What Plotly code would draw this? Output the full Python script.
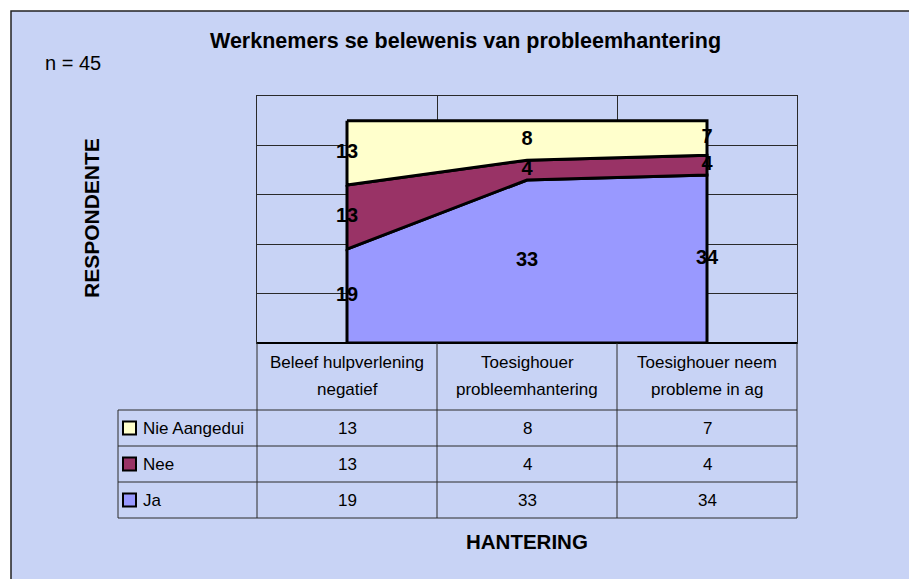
import plotly.graph_objects as go

# ---- data -------------------------------------------------------------
categories = [
    "Beleef hulpverlening<br>negatief",
    "Toesighouer<br>probleemhantering",
    "Toesighouer neem<br>probleme in ag",
]
ja = [19, 33, 34]
nee = [13, 4, 4]
nie_aangedui = [13, 8, 7]
y_ticks = [0, 10, 20, 30, 40, 50]

title_text = "Werknemers se belewenis van probleemhantering"
sample_text = "n = 45"
y_title = "RESPONDENTE"
x_title = "HANTERING"

# stacking order: bottom to top
series = [
    ("Ja", ja, "#9999FF"),
    ("Nee", nee, "#993366"),
    ("Nie Aangedui", nie_aangedui, "#FFFFCC"),
]

# ---- page geometry (pixels) ------------------------------------------
W, H = 909, 579
BG = "#C8D3F5"
GRID = "#2a2a2a"
FONT = "Liberation Sans, Arial, sans-serif"
TABLE_SIZE = 17

plot_left, plot_right, plot_top, plot_bottom = 257, 797, 96, 343
legend_left = 118
row_edges = [343, 410, 446, 482, 518]
header_lines_y = [362, 390]


def px(x):
    return x / W


def py(y):
    return 1 - y / H


idx = list(range(len(categories)))
fig = go.Figure()

# stacked areas as closed polygons with black outlines
base = [0] * len(idx)
label_x, label_y, label_t = [], [], []
for name, vals, color in series:
    top = [b + v for b, v in zip(base, vals)]
    xs = idx + idx[::-1] + [idx[0]]
    ys = top + base[::-1] + [top[0]]
    fig.add_trace(go.Scatter(
        x=xs, y=ys, mode="lines", fill="toself", fillcolor=color,
        line=dict(color="black", width=3), name=name,
        hoverinfo="skip", showlegend=False,
    ))
    for i in idx:
        label_x.append(i)
        label_y.append(base[i] + vals[i] / 2)
        label_t.append(str(vals[i]))
    base = top

# value labels in the middle of each band
fig.add_trace(go.Scatter(
    x=label_x, y=label_y, text=label_t, mode="text",
    textposition="middle center",
    textfont=dict(family=FONT, size=20, color="black", weight="bold"),
    hoverinfo="skip", showlegend=False, cliponaxis=False,
))

shapes = []
annotations = []

# outer frame with background fill
shapes.append(dict(
    type="rect", xref="paper", yref="paper",
    x0=px(11), x1=px(W + 10), y0=py(H + 10), y1=py(11),
    fillcolor=BG, line=dict(color="#222", width=1.5), layer="below",
))


def hline(x0, x1, y, width=1, color=GRID):
    shapes.append(dict(type="line", xref="paper", yref="paper",
                       x0=px(x0), x1=px(x1), y0=py(y), y1=py(y),
                       line=dict(color=color, width=width)))


def vline(x, y0, y1, width=1, color=GRID):
    shapes.append(dict(type="line", xref="paper", yref="paper",
                       x0=px(x), x1=px(x), y0=py(y0), y1=py(y1),
                       line=dict(color=color, width=width)))


# data table grid
col_edges = [plot_left + (plot_right - plot_left) * k / len(categories)
             for k in range(len(categories) + 1)]
hline(plot_left, plot_right, row_edges[0], width=2, color="black")
for y in row_edges[1:]:
    hline(legend_left, plot_right, y)
for x in col_edges:
    vline(x, row_edges[0], row_edges[-1])
vline(legend_left, row_edges[1], row_edges[-1])

# header row: category names, one annotation per text line
for k, cat in enumerate(categories):
    cx = (col_edges[k] + col_edges[k + 1]) / 2
    for line_text, ly in zip(cat.split("<br>"), header_lines_y):
        annotations.append(dict(
            x=px(cx), y=py(ly), xref="paper", yref="paper",
            text=line_text, showarrow=False,
            font=dict(family=FONT, size=TABLE_SIZE, color="black"),
            xanchor="center", yanchor="middle",
        ))

# value rows, top row is the top band
for r, (name, vals, color) in enumerate(series[::-1]):
    y0, y1 = row_edges[r + 1], row_edges[r + 2]
    cy = (y0 + y1) / 2
    shapes.append(dict(
        type="rect", xref="paper", yref="paper",
        x0=px(123), x1=px(136), y0=py(cy + 6.5), y1=py(cy - 6.5),
        fillcolor=color, line=dict(color="black", width=2),
    ))
    annotations.append(dict(
        x=px(141), y=py(cy), xref="paper", yref="paper", text=name,
        showarrow=False, xanchor="left", yanchor="middle",
        font=dict(family=FONT, size=TABLE_SIZE, color="black"),
    ))
    for k, v in enumerate(vals):
        cx = (col_edges[k] + col_edges[k + 1]) / 2
        annotations.append(dict(
            x=px(cx), y=py(cy), xref="paper", yref="paper", text=str(v),
            showarrow=False, xanchor="center", yanchor="middle",
            font=dict(family=FONT, size=TABLE_SIZE, color="black"),
        ))

# titles and note
annotations += [
    dict(x=px(466), y=py(41), xref="paper", yref="paper",
         text=f"<b>{title_text}</b>", showarrow=False,
         font=dict(family=FONT, size=21.5, color="black"),
         xanchor="center", yanchor="middle"),
    dict(x=px(43), y=py(63), xref="paper", yref="paper",
         text=sample_text, showarrow=False,
         font=dict(family=FONT, size=20, color="black"),
         xanchor="left", yanchor="middle"),
    dict(x=px(92), y=py(218), xref="paper", yref="paper",
         text=f"<b>{y_title}</b>", showarrow=False, textangle=-90,
         font=dict(family=FONT, size=21, color="black"),
         xanchor="center", yanchor="middle"),
    dict(x=px(527), y=py(541), xref="paper", yref="paper",
         text=f"<b>{x_title}</b>", showarrow=False,
         font=dict(family=FONT, size=20.5, color="black"),
         xanchor="center", yanchor="middle"),
]

fig.update_layout(
    width=W, height=H,
    margin=dict(l=0, r=0, t=0, b=0),
    paper_bgcolor="white",
    plot_bgcolor="rgba(0,0,0,0)",
    shapes=shapes,
    annotations=annotations,
    showlegend=False,
    xaxis=dict(
        domain=[px(plot_left), px(plot_right)],
        range=[-0.5, len(categories) - 0.5],
        tickvals=[i + 0.5 for i in idx[:-1]],
        showticklabels=False, ticks="",
        showgrid=True, gridcolor=GRID, gridwidth=1,
        zeroline=False, showline=True, mirror=True,
        linecolor=GRID, linewidth=1, fixedrange=True,
    ),
    yaxis=dict(
        domain=[py(plot_bottom), py(plot_top)],
        range=[y_ticks[0], y_ticks[-1]],
        tickvals=y_ticks[1:-1],
        showticklabels=False, ticks="",
        showgrid=True, gridcolor=GRID, gridwidth=1,
        zeroline=False, showline=True, mirror=True,
        linecolor=GRID, linewidth=1, fixedrange=True,
    ),
)

fig.write_html("out.html")
